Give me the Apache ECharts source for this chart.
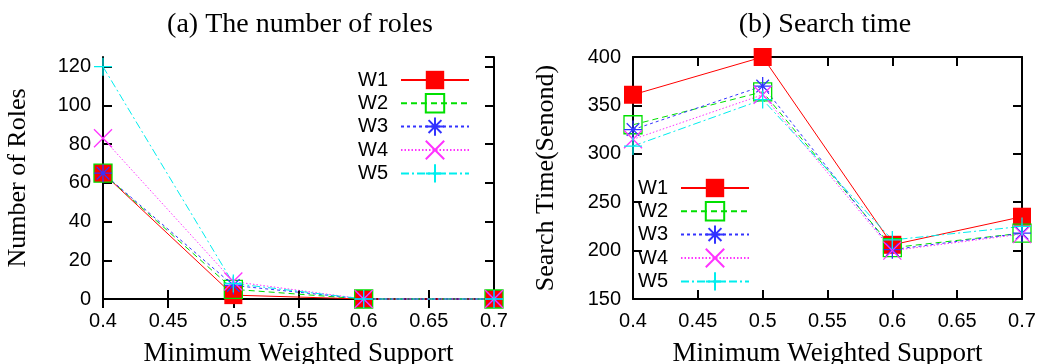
<!DOCTYPE html>
<html>
<head>
<meta charset="utf-8">
<script src="https://cdn.jsdelivr.net/npm/echarts@6/dist/echarts.min.js"></script>
<style>
  html, body { margin: 0; padding: 0; background: #fff; }
  #box { width: 1039px; height: 364px; }
</style>
</head>
<body>
<div id="box"></div>
<script>
// x values shared by both panels
var support = [0.4, 0.5, 0.6, 0.7];
var names = ['W1', 'W2', 'W3', 'W4', 'W5'];

// (a) number of roles
var rolesW1 = [65, 2, 0, 0];
var rolesW2 = [65, 5, 0, 0];
var rolesW3 = [65, 7, 0, 0];
var rolesW4 = [83, 9, 0, 0];
var rolesW5 = [120, 8, 0, 0];

// (b) search time
var timeW1 = [361, 400, 206, 235];
var timeW2 = [330, 364, 203, 218];
var timeW3 = [325, 370, 201, 218];
var timeW4 = [315, 361, 200, 217];
var timeW5 = [308, 356, 211, 225];

var colors = ['#ff0000', '#00e000', '#3333ff', '#ff33ff', '#00eeee'];
var dashes = ['solid', [6, 4], [3, 3], [1.5, 2], [8, 3, 2, 3]];
var symbols = [
  'rect',
  'rect',
  'path://M5 0L5 10M0 5L10 5M1.5 1.5L8.5 8.5M8.5 1.5L1.5 8.5',
  'path://M0 0L10 10M10 0L0 10',
  'path://M5 0L5 10M0 5L10 5'
];
var fills = ['#ff0000', 'transparent', '#3333ff', '#ff33ff', '#00eeee'];

var sans = 'Liberation Sans';
var serif = 'Liberation Serif';

function pairs(vals) {
  return vals.map(function (v, i) { return [support[i], v]; });
}

function xAxes(grid) {
  var base = {
    gridIndex: grid, type: 'value', min: 0.4, max: 0.7, interval: 0.05,
    splitLine: { show: false },
    axisLine: { lineStyle: { color: '#000', width: 2 } },
    axisTick: { inside: true, length: 9, lineStyle: { color: '#000', width: 2 } }
  };
  return [
    Object.assign({}, base, {
      position: 'bottom',
      name: 'Minimum Weighted Support', nameLocation: 'middle', nameGap: 41,
      nameTextStyle: { fontFamily: serif, fontSize: 27, color: '#000' },
      axisLabel: {
        margin: 12, fontFamily: sans, fontSize: 20, color: '#000',
        formatter: function (v) { return String(+v.toFixed(2)); }
      }
    }),
    Object.assign({}, base, { position: 'top', axisLabel: { show: false } })
  ];
}

function yAxes(grid, min, max, interval, title, gap) {
  var base = {
    gridIndex: grid, type: 'value', min: min, max: max, interval: interval,
    splitLine: { show: false },
    axisLine: { lineStyle: { color: '#000', width: 2 } },
    axisTick: { inside: true, length: 9, lineStyle: { color: '#000', width: 2 } }
  };
  return [
    Object.assign({}, base, {
      position: 'left',
      name: title, nameLocation: 'middle', nameGap: gap,
      nameTextStyle: { fontFamily: serif, fontSize: 26, color: '#000' },
      axisLabel: {
        margin: 12, fontFamily: sans, fontSize: 20, color: '#000',
        showMaxLabel: max % interval === 0
      }
    }),
    Object.assign({}, base, { position: 'right', axisLabel: { show: false } })
  ];
}

function makeSeries(grid, sets) {
  return sets.map(function (vals, i) {
    return {
      name: names[i],
      type: 'line',
      xAxisIndex: grid * 2,
      yAxisIndex: grid * 2,
      data: pairs(vals),
      symbol: symbols[i],
      symbolSize: 18,
      clip: false,
      lineStyle: { color: colors[i], width: 1, type: dashes[i] },
      itemStyle: { color: fills[i], borderColor: colors[i], borderWidth: i === 0 ? 0 : 1.3 },
      emphasis: { disabled: true }
    };
  });
}

var legendBase = {
  data: names,
  orient: 'vertical',
  align: 'right',
  itemWidth: 68,
  itemHeight: 23,
  itemGap: 3,
  selectedMode: false,
  textStyle: { fontFamily: sans, fontSize: 20, color: '#000', padding: [0, 8, 0, 0] }
};

var chart = echarts.init(document.getElementById('box'));

var option = {
  animation: false,
  backgroundColor: '#fff',
  graphic: [
    { type: 'text', x: 300, y: 11,
      style: { text: '(a) The number of roles', align: 'center', verticalAlign: 'top',
               fontFamily: serif, fontSize: 28, fill: '#000' } },
    { type: 'text', x: 825, y: 11,
      style: { text: '(b) Search time', align: 'center', verticalAlign: 'top',
               fontFamily: serif, fontSize: 28, fill: '#000' } }
  ],
  legend: [
    Object.assign({}, legendBase, { right: 564, top: 65 }),
    Object.assign({}, legendBase, { left: 633, top: 173 })
  ],
  grid: [
    { left: 103, right: 545, top: 57, bottom: 65, outerBoundsMode: 'none', containLabel: false },
    { left: 633, right: 17, top: 57, bottom: 65, outerBoundsMode: 'none', containLabel: false }
  ],
  xAxis: xAxes(0).concat(xAxes(1)),
  yAxis: yAxes(0, 0, 125, 20, 'Number of Roles', 72)
    .concat(yAxes(1, 150, 400, 50, 'Search Time(Senond)', 74)),
  series: makeSeries(0, [rolesW1, rolesW2, rolesW3, rolesW4, rolesW5])
    .concat(makeSeries(1, [timeW1, timeW2, timeW3, timeW4, timeW5]))
};

chart.setOption(option);
</script>
</body>
</html>
